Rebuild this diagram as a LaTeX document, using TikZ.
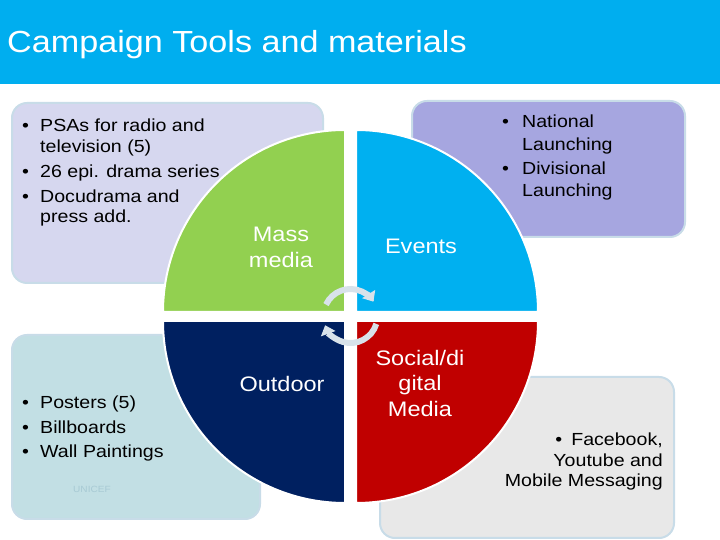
\documentclass[tikz,border=0pt]{standalone}
\usepackage{fontspec}
\setmainfont{Liberation Sans}[FakeStretch=1.12]
\usetikzlibrary{arrows.meta}
\definecolor{titlebar}{HTML}{00AEEF}
\definecolor{boxTL}{HTML}{D6D7EF}
\definecolor{boxTR}{HTML}{A6A6E0}
\definecolor{boxBL}{HTML}{C2DFE4}
\definecolor{boxBR}{HTML}{E8E8E8}
\definecolor{boxline}{HTML}{C8DCE8}
\definecolor{qgreen}{HTML}{92D050}
\definecolor{qblue}{HTML}{00B0F0}
\definecolor{qnavy}{HTML}{002060}
\definecolor{qred}{HTML}{C00000}
\definecolor{arrowc}{HTML}{D8E2EA}
\definecolor{faint}{HTML}{A8CAD4}
\newcommand\bul{\makebox[18pt][l]{\textbullet}}
\newcommand\ind{\hspace*{18pt}}
\tikzset{
  infobox/.style={draw=boxline, line width=2pt, rounded corners=15pt},
  bodytxt/.style={inner sep=0pt, text=black, font=\fontsize{17.5}{20.5}\selectfont},
  quadtxt/.style={inner sep=0pt, text=white, font=\fontsize{21}{25.5}\selectfont},
  quad/.style={draw=white, line width=2pt},
  cyclearrow/.style={draw=arrowc, line width=6pt, -{Triangle[width=15pt,length=9pt]}}
}
\begin{document}
\begin{tikzpicture}[x=1pt,y=1pt]
\useasboundingbox (0,0) rectangle (720,540);
\fill[white] (0,0) rectangle (720,540);
% title bar
\fill[titlebar] (0,456) rectangle (720,540);
\node[anchor=base west, inner sep=0pt, text=white, font=\fontsize{30.5}{36}\selectfont] (title) at (7,487) {Campaign Tools and materials};
% boxes
\draw[infobox, fill=boxTL] (12,257) rectangle (323,437);
\draw[infobox, fill=boxTR] (412,303) rectangle (685,439);
\draw[infobox, fill=boxBL] (12,21) rectangle (260,205);
\draw[infobox, fill=boxBR] (380,2) rectangle (674,163);
% box texts
\node[bodytxt, anchor=base west] (mmtxt) at (22,408) {\begin{tabular}[t]{@{}l@{}}
\bul PSAs for radio and\\
\ind television (5)\\[4.5pt]
\bul 26 epi. drama series\\[4.5pt]
\bul Docudrama and\\
\ind press add.
\end{tabular}};
\node[bodytxt, anchor=base west, font=\fontsize{17.5}{22.5}\selectfont] (evtxt) at (502,412) {\begin{tabular}[t]{@{}l@{}}
\makebox[20pt][l]{\textbullet}National\\
\hspace*{20pt}Launching\\[1.5pt]
\makebox[20pt][l]{\textbullet}Divisional\\
\hspace*{20pt}Launching
\end{tabular}};
\node[bodytxt, anchor=base west] (odtxt) at (22,131) {\begin{tabular}[t]{@{}l@{}}
\bul Posters (5)\\[4pt]
\bul Billboards\\[4pt]
\bul Wall Paintings
\end{tabular}};
\node[inner sep=0pt, anchor=base west, text=faint, font=\fontsize{9}{10}\selectfont] (unicef) at (73,47) {UNICEF};
\node[bodytxt, anchor=base east] (smtxt) at (663,94) {\begin{tabular}[t]{@{}r@{}}
\textbullet\hspace{9pt}Facebook,\\
Youtube and\\
Mobile Messaging
\end{tabular}};
% quadrants
\draw[quad, fill=qgreen] (345,228) -- ++(-182,0) arc[start angle=180, end angle=90, radius=182] -- cycle;
\draw[quad, fill=qblue] (356,228) -- ++(0,182) arc[start angle=90, end angle=0, radius=182] -- cycle;
\draw[quad, fill=qnavy] (345,219) -- ++(-182,0) arc[start angle=180, end angle=270, radius=182] -- cycle;
\draw[quad, fill=qred] (356,219) -- ++(182,0) arc[start angle=0, end angle=-90, radius=182] -- cycle;
% quadrant labels
\node[quadtxt, anchor=base] (mass) at (281,298) {\begin{tabular}[t]{@{}c@{}}Mass\\media\end{tabular}};
\node[quadtxt, anchor=base] (events) at (421,286.5) {Events};
\node[quadtxt, anchor=base] (outdoor) at (282,148.5) {Outdoor};
\node[quadtxt, anchor=base] (social) at (420,174.5) {\begin{tabular}[t]{@{}c@{}}Social/di\\gital\\Media\end{tabular}};
% cycle arrows
\coordinate (cc) at (350.5,224);
\draw[cyclearrow] ([shift={(155:27)}]cc) arc[start angle=155, end angle=32, radius=27];
\draw[cyclearrow] ([shift={(-17:27)}]cc) arc[start angle=-17, end angle=-160, radius=27];
\end{tikzpicture}
\end{document}
